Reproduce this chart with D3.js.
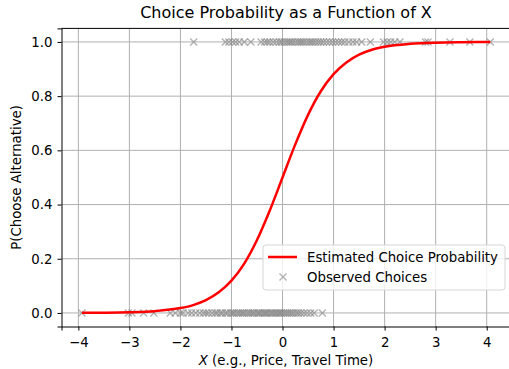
<!DOCTYPE html>
<html>
<head>
<meta charset="utf-8">
<script src="https://cdn.jsdelivr.net/npm/d3@7"></script>
<style>
  body { margin: 0; background: #fff; }
  svg { display: block; font-family: "DejaVu Sans", sans-serif; }
</style>
</head>
<body>
<svg id="canvas"></svg>
<script>
// fitted curve
let curveX = [-3.93, -3.5, -3, -2.5, -2, -1.75, -1.5, -1.25, -1, -0.75, -0.5, -0.25, 0, 0.25, 0.5, 0.75, 1, 1.25, 1.5, 1.75, 2, 2.5, 3, 3.5, 4.07]
let curveP = [0.0004, 0.0009, 0.0025, 0.0067, 0.018, 0.029, 0.047, 0.076, 0.119, 0.182, 0.269, 0.378, 0.5, 0.622, 0.731, 0.818, 0.881, 0.924, 0.953, 0.971, 0.982, 0.993, 0.9975, 0.9991, 0.9997]

// observed choices (x positions) at 0 and at 1
let chose0 = [-3.93, -3.02, -2.95, -2.72, -2.52, -2.2, -2.1, -2.0, -1.95, -1.85, -1.78, -1.7, -1.62, -1.55, -1.5, -1.45,
  -1.38, -1.32, -1.28, -1.22, -1.18, -1.12, -1.08, -1.02, -0.98, -0.95, -0.9, -0.86, -0.82, -0.78, -0.75, -0.7,
  -0.66, -0.62, -0.58, -0.55, -0.5, -0.47, -0.44, -0.4, -0.36, -0.33, -0.3, -0.26, -0.22, -0.19, -0.15, -0.12,
  -0.08, -0.05, -0.02, 0.02, 0.06, 0.1, 0.14, 0.18, 0.22, 0.27, 0.31, 0.36, 0.42, 0.48, 0.55, 0.62, 0.78]
let chose1 = [-1.74, -1.12, -1.05, -0.98, -0.92, -0.85, -0.75, -0.62, -0.42, -0.35, -0.3, -0.25, -0.18, -0.12, -0.06,
  -0.02, 0.03, 0.08, 0.12, 0.16, 0.2, 0.25, 0.3, 0.34, 0.38, 0.42, 0.47, 0.52, 0.56, 0.6, 0.65, 0.7, 0.75, 0.8,
  0.86, 0.92, 0.98, 1.04, 1.1, 1.16, 1.22, 1.3, 1.38, 1.45, 1.55, 1.72, 1.98, 2.05, 2.12, 2.2, 2.3, 2.8, 2.85,
  3.28, 3.67, 4.07]

let xTicks = [-4, -3, -2, -1, 0, 1, 2, 3, 4]
let yTicks = [0, 0.2, 0.4, 0.6, 0.8, 1.0]

let titleText = 'Choice Probability as a Function of X'
let yLabelText = 'P(Choose Alternative)'
let legendLabels = ['Estimated Choice Probability', 'Observed Choices']

let width = 509
let height = 369
let fs = 13.3

let canvas = d3.select('#canvas')
               .attr('width', width)
               .attr('height', height)

let xScale = d3.scaleLinear().domain([-4.33, 4.47]).range([61.5, 510.7])
let yScale = d3.scaleLinear().domain([-0.05, 1.05]).range([326.5, 28.4])

let fmtMinus = (s) => s.replace('-', '\u2212')

// grid
canvas.append('g')
      .selectAll('line')
      .data(xTicks)
      .enter()
      .append('line')
      .attr('x1', d => xScale(d)).attr('x2', d => xScale(d))
      .attr('y1', yScale.range()[0]).attr('y2', yScale.range()[1])
      .attr('stroke', '#b0b0b0').attr('stroke-width', 1)

canvas.append('g')
      .selectAll('line')
      .data(yTicks)
      .enter()
      .append('line')
      .attr('y1', d => yScale(d)).attr('y2', d => yScale(d))
      .attr('x1', xScale.range()[0]).attr('x2', xScale.range()[1])
      .attr('stroke', '#b0b0b0').attr('stroke-width', 1)

// scatter x markers
let points = chose0.map(x => ({x: x, y: 0})).concat(chose1.map(x => ({x: x, y: 1})))
let m = 3.5
canvas.append('g')
      .selectAll('path')
      .data(points)
      .enter()
      .append('path')
      .attr('d', d => {
        let cx = xScale(d.x), cy = yScale(d.y)
        return `M${cx - m},${cy - m}L${cx + m},${cy + m}M${cx - m},${cy + m}L${cx + m},${cy - m}`
      })
      .attr('stroke', 'gray')
      .attr('stroke-opacity', 0.6)
      .attr('stroke-width', 1.4)
      .attr('fill', 'none')

// fitted curve
let line = d3.line()
             .x((d, i) => xScale(curveX[i]))
             .y(d => yScale(d))
             .curve(d3.curveMonotoneX)

canvas.append('path')
      .datum(curveP)
      .attr('d', line)
      .attr('fill', 'none')
      .attr('stroke', 'red')
      .attr('stroke-width', 2.5)

// axes
let xAxis = d3.axisBottom(xScale)
              .tickValues(xTicks)
              .tickFormat(d => fmtMinus(d3.format('d')(d)))
              .tickSizeOuter(0)
              .tickSize(4)
let yAxis = d3.axisLeft(yScale)
              .tickValues(yTicks)
              .tickFormat(d3.format('.1f'))
              .tickSizeOuter(0)
              .tickSize(4)

let gx = canvas.append('g')
               .attr('transform', `translate(0, ${yScale.range()[0]})`)
               .call(xAxis)
let gy = canvas.append('g')
               .attr('transform', `translate(${xScale.range()[0]}, 0)`)
               .call(yAxis)

for (let g of [gx, gy]) {
  g.selectAll('text').attr('font-family', 'DejaVu Sans').attr('font-size', fs).attr('fill', '#000')
  g.selectAll('line').attr('stroke', '#000').attr('stroke-width', 1)
  g.select('.domain').attr('stroke', '#000').attr('stroke-width', 1)
}
gx.selectAll('text').attr('dy', '1.05em')
gy.selectAll('text').attr('dx', '-0.15em')

// top spine
canvas.append('line')
      .attr('x1', xScale.range()[0]).attr('x2', xScale.range()[1])
      .attr('y1', yScale.range()[1]).attr('y2', yScale.range()[1])
      .attr('stroke', '#000').attr('stroke-width', 1)

// title and labels
canvas.append('text')
      .attr('x', 286).attr('y', 18)
      .attr('text-anchor', 'middle')
      .attr('font-size', 16)
      .text(titleText)

let xl = canvas.append('text')
               .attr('x', 286).attr('y', 365)
               .attr('text-anchor', 'middle')
               .attr('font-size', fs)
xl.append('tspan').attr('font-style', 'italic').text('X')
xl.append('tspan').text(' (e.g., Price, Travel Time)')

canvas.append('text')
      .attr('transform', `translate(21, ${yScale(0.5)}) rotate(-90)`)
      .attr('text-anchor', 'middle')
      .attr('font-size', fs)
      .text(yLabelText)

// legend
let lg = canvas.append('g').attr('transform', 'translate(263, 245)')
lg.append('rect')
  .attr('width', 242).attr('height', 45).attr('rx', 3)
  .attr('fill', 'rgba(255,255,255,0.8)')
  .attr('stroke', '#d6d6d6').attr('stroke-width', 1)
lg.append('line')
  .attr('x1', 5).attr('x2', 34).attr('y1', 12).attr('y2', 12)
  .attr('stroke', 'red').attr('stroke-width', 2.5)
lg.append('path')
  .attr('d', `M${20 - m},${32 - m}L${20 + m},${32 + m}M${20 - m},${32 + m}L${20 + m},${32 - m}`)
  .attr('stroke', 'gray').attr('stroke-opacity', 0.6).attr('stroke-width', 1.4)
lg.selectAll('text.lab')
  .data(legendLabels)
  .enter()
  .append('text')
  .attr('class', 'lab')
  .attr('x', 44)
  .attr('y', (d, i) => 17 + i * 20)
  .attr('font-size', fs)
  .text(d => d)
</script>
</body>
</html>
